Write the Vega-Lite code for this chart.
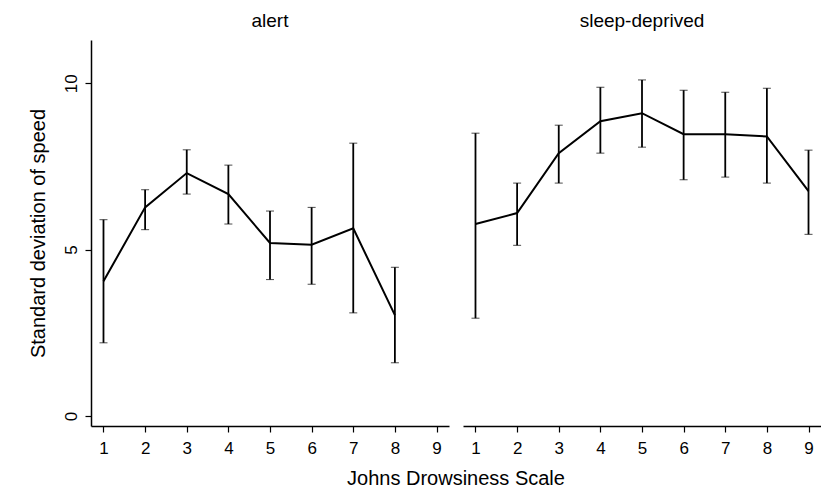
{
  "$schema": "https://vega.github.io/schema/vega-lite/v6.json",
  "padding": {"left": 28, "top": 12, "right": 0, "bottom": 0},
  "background": "white",
  "data": {"values": [
    {"cond": "alert", "jds": 1, "sd": 4.05, "lo": 2.2, "hi": 5.9},
    {"cond": "alert", "jds": 2, "sd": 6.27, "lo": 5.6, "hi": 6.8},
    {"cond": "alert", "jds": 3, "sd": 7.3, "lo": 6.67, "hi": 8.0},
    {"cond": "alert", "jds": 4, "sd": 6.67, "lo": 5.77, "hi": 7.54},
    {"cond": "alert", "jds": 5, "sd": 5.2, "lo": 4.1, "hi": 6.16},
    {"cond": "alert", "jds": 6, "sd": 5.15, "lo": 3.96, "hi": 6.27},
    {"cond": "alert", "jds": 7, "sd": 5.64, "lo": 3.1, "hi": 8.2},
    {"cond": "alert", "jds": 8, "sd": 3.03, "lo": 1.6, "hi": 4.47},
    {"cond": "sleep-deprived", "jds": 1, "sd": 5.77, "lo": 2.94, "hi": 8.5},
    {"cond": "sleep-deprived", "jds": 2, "sd": 6.1, "lo": 5.13, "hi": 7.0},
    {"cond": "sleep-deprived", "jds": 3, "sd": 7.9, "lo": 7.0, "hi": 8.74},
    {"cond": "sleep-deprived", "jds": 4, "sd": 8.86, "lo": 7.9, "hi": 9.88},
    {"cond": "sleep-deprived", "jds": 5, "sd": 9.1, "lo": 8.08, "hi": 10.1},
    {"cond": "sleep-deprived", "jds": 6, "sd": 8.47, "lo": 7.1, "hi": 9.79},
    {"cond": "sleep-deprived", "jds": 7, "sd": 8.47, "lo": 7.18, "hi": 9.73},
    {"cond": "sleep-deprived", "jds": 8, "sd": 8.4, "lo": 7.0, "hi": 9.85},
    {"cond": "sleep-deprived", "jds": 9, "sd": 6.76, "lo": 5.46, "hi": 7.99}
  ]},
  "facet": {
    "column": {
      "field": "cond",
      "type": "nominal",
      "title": "Johns Drowsiness Scale",
      "header": {
        "labelOrient": "top",
        "titleOrient": "bottom",
        "labelFont": "Liberation Sans",
        "labelFontSize": 19,
        "labelColor": "black",
        "labelPadding": 9,
        "titleFont": "Liberation Sans",
        "titleFontSize": 20,
        "titleFontWeight": "normal",
        "titleColor": "black",
        "titlePadding": 3
      }
    }
  },
  "spacing": 14,
  "spec": {
    "width": 358,
    "height": 386,
    "layer": [
      {
        "mark": {"type": "line", "color": "black", "strokeWidth": 2},
        "encoding": {
          "x": {"field": "jds", "type": "quantitative", "scale": {"domain": [0.7, 9.3], "nice": false, "zero": false},
                "axis": {"values": [1,2,3,4,5,6,7,8,9], "title": null, "labelPadding": 8, "labelFontSize": 17}},
          "y": {"field": "sd", "type": "quantitative", "scale": {"domain": [-0.3, 11.3], "nice": false, "zero": false},
                "axis": {"values": [0, 5, 10], "title": "Standard deviation of speed", "labelAngle": 270, "labelAlign": "center", "labelBaseline": "bottom", "labelPadding": 5, "labelFontSize": 17, "titlePadding": 14}}
        }
      },
      {
        "mark": {"type": "errorbar", "ticks": {"size": 8, "color": "black", "strokeWidth": 1.8}, "rule": {"color": "black", "strokeWidth": 1.8}},
        "encoding": {
          "x": {"field": "jds", "type": "quantitative"},
          "y": {"field": "lo", "type": "quantitative", "title": "Standard deviation of speed"},
          "y2": {"field": "hi"}
        }
      }
    ]
  },
  "config": {
    "view": {"stroke": null},
    "axis": {
      "grid": false,
      "domainColor": "black",
      "domainWidth": 1.5,
      "tickColor": "black",
      "tickSize": 6,
      "tickWidth": 1.2,
      "labelColor": "black",
      "labelFont": "Liberation Sans",
      "labelFontSize": 17,
      "titleFont": "Liberation Sans",
      "titleFontSize": 20,
      "titleFontWeight": "normal",
      "titleColor": "black"
    }
  }
}
